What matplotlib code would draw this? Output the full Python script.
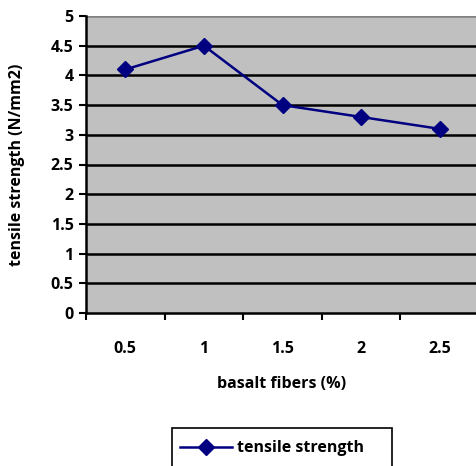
import matplotlib
matplotlib.use("Agg")
import matplotlib.pyplot as plt
from matplotlib.lines import Line2D
from matplotlib.patches import Rectangle

categories = ["0.5", "1", "1.5", "2", "2.5"]
tensile_strength = [4.1, 4.5, 3.5, 3.3, 3.1]
y_ticks = [0, 0.5, 1, 1.5, 2, 2.5, 3, 3.5, 4, 4.5, 5]
y_tick_labels = ["0", "0.5", "1", "1.5", "2", "2.5", "3", "3.5", "4", "4.5", "5"]

plt.rcParams['font.family'] = ['Open Sans', 'DejaVu Sans']
plt.rcParams['font.weight'] = 'bold'
FS = 11.5

W, H = 477, 466
fig = plt.figure(figsize=(W / 100, H / 100), dpi=100)
left, right, top, bottom = 86, 479, 16, 313
ax = fig.add_axes([left / W, 1 - bottom / H, (right - left) / W, (bottom - top) / H])
ax.set_facecolor("#c0c0c0")

x = list(range(len(categories)))
ax.plot(x, tensile_strength, color="#000080", lw=1.8, marker="D", markersize=8,
        markerfacecolor="#000080", markeredgecolor="#000080", label="tensile strength", zorder=3)

ax.set_xlim(-0.5, len(categories) - 0.5)
ax.set_ylim(0, 5)
ax.set_yticks(y_ticks)
ax.set_yticklabels(y_tick_labels, fontsize=FS, fontweight='bold')
for yv in y_ticks[1:-1]:
    ax.axhline(yv, color="black", lw=1.8, zorder=1)
ax.axhline(5, color="#808080", lw=1.8, zorder=1)

# x: ticks at boundaries, labels at centers
ax.set_xticks([i - 0.5 for i in range(len(categories) + 1)])
ax.set_xticklabels([""] * (len(categories) + 1))
ax.set_xticks(x, minor=True)
ax.set_xticklabels(categories, minor=True, fontsize=FS, fontweight='bold')
ax.tick_params(axis='x', which='minor', length=0, pad=20)
ax.tick_params(axis='x', which='major', length=5, width=1.5, direction='out')
ax.tick_params(axis='y', length=5, width=1.5, direction='out', pad=4)

for s in ["top", "right"]:
    ax.spines[s].set_visible(False)
ax.spines["left"].set_linewidth(1.8)
ax.spines["bottom"].set_linewidth(1.8)

fig.text(282 / W, 1 - 384 / H, "basalt fibers (%)", ha="center", va="center",
         fontsize=FS, fontweight='bold')
fig.text(17 / W, 1 - 165 / H, "tensile strength (N/mm2)", ha="center", va="center",
         rotation=90, fontsize=FS, fontweight='bold')

# legend box
fig.patches.append(Rectangle((172 / W, 1 - 475 / H), (392 - 172) / W, (475 - 428) / H,
                             transform=fig.transFigure, facecolor="white",
                             edgecolor="black", lw=1.2))
fig.lines.append(Line2D([180 / W, 232 / W], [1 - 447 / H, 1 - 447 / H], transform=fig.transFigure,
                        color="#000080", lw=1.8, marker=None))
fig.lines.append(Line2D([206 / W], [1 - 447 / H], transform=fig.transFigure,
                        color="#000080", marker="D", markersize=8))
fig.text(237 / W, 1 - 448 / H, "tensile strength", ha="left", va="center",
         fontsize=FS, fontweight='bold')

fig.savefig("out.png", dpi=100)
